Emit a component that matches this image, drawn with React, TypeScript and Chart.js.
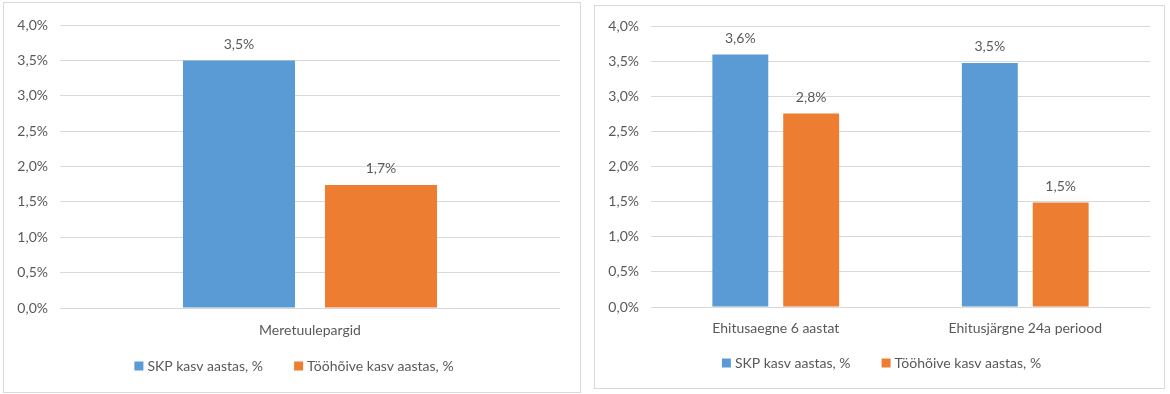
import React, { useEffect, useRef } from "react";
import { Chart, registerables } from "chart.js";

Chart.register(...registerables);

const seriesNames = ["SKP kasv aastas, %", "Tööhõive kasv aastas, %"];
const seriesColors = ["#5B9BD5", "#ED7D31"];

const leftCategories = ["Meretuulepargid"];
const leftGdp = [3.5];
const leftEmployment = [1.74];

const rightCategories = ["Ehitusaegne 6 aastat", "Ehitusjärgne 24a periood"];
const rightGdp = [3.6, 3.48];
const rightEmployment = [2.76, 1.49];

const yMin = 0;
const yMax = 4;
const yStep = 0.5;

const TEXT = "#595959";
const GRID = "#d9d9d9";
const FONT = "Lato, 'Open Sans', sans-serif";

const fmt = (v: number) => v.toFixed(1).replace(".", ",") + "%";

const valueLabels = {
  id: "valueLabels",
  afterDatasetsDraw(chart: any) {
    const ctx = chart.ctx;
    ctx.save();
    ctx.font = `14px ${FONT}`;
    ctx.fillStyle = TEXT;
    ctx.textAlign = "center";
    ctx.textBaseline = "middle";
    chart.data.datasets.forEach((ds: any, i: number) => {
      const meta = chart.getDatasetMeta(i);
      meta.data.forEach((el: any, j: number) => {
        ctx.fillText(fmt(ds.data[j]), el.x, el.y - 16);
      });
    });
    ctx.restore();
  },
};

// Legend drawn below the x axis, centered on the whole chart box (as in the source)
const bottomLegend = {
  id: "bottomLegend",
  afterDraw(chart: any, _args: any, opts: any) {
    const ctx = chart.ctx;
    const box = 9;
    const gap = 4;
    const spacing = 31;
    ctx.save();
    ctx.font = `14px ${FONT}`;
    ctx.textBaseline = "middle";
    ctx.textAlign = "left";
    const items = chart.data.datasets.map((ds: any) => ({
      text: ds.label,
      color: ds.backgroundColor,
      w: ctx.measureText(ds.label).width,
    }));
    const total =
      items.reduce((s: number, it: any) => s + box + gap + it.w, 0) + spacing * (items.length - 1);
    let x = chart.width / 2 + 2 - total / 2;
    const y = chart.chartArea.bottom + opts.offset;
    items.forEach((it: any) => {
      ctx.fillStyle = it.color;
      ctx.fillRect(x, y - box / 2, box, box);
      x += box + gap;
      ctx.fillStyle = TEXT;
      ctx.fillText(it.text, x, y);
      x += it.w + spacing;
    });
    ctx.restore();
  },
};

type Cfg = {
  categories: string[];
  gdp: number[];
  emp: number[];
  w: number;
  h: number;
  yWidth: number;
  rightPad: number;
  top: number;
  bottom: number;
  xPad: number;
  legendOffset: number;
};

function BarChart({ categories, gdp, emp, w, h, yWidth, rightPad, top, bottom, xPad, legendOffset }: Cfg) {
  const ref = useRef<HTMLCanvasElement | null>(null);
  useEffect(() => {
    if (!ref.current) return;
    const chart = new Chart(ref.current, {
      type: "bar",
      data: {
        labels: categories,
        datasets: [
          { label: seriesNames[0], data: gdp, backgroundColor: seriesColors[0] },
          { label: seriesNames[1], data: emp, backgroundColor: seriesColors[1] },
        ],
      },
      options: {
        animation: false,
        responsive: false,
        devicePixelRatio: 1,
        layout: { padding: { top, bottom, left: 0, right: 0 } },
        datasets: { bar: { categoryPercentage: 0.568, barPercentage: 0.789 } },
        plugins: {
          tooltip: { enabled: false },
          legend: { display: false },
          bottomLegend: { offset: legendOffset },
        },
        scales: {
          x: {
            grid: { display: false, drawTicks: false },
            border: { display: false },
            ticks: { color: TEXT, font: { family: FONT, size: 14 }, padding: xPad, maxRotation: 0 },
            afterFit: (s: any) => {
              s.height = 40;
            },
          },
          y: {
            min: yMin,
            max: yMax,
            grid: { color: GRID, drawTicks: false },
            border: { display: false },
            ticks: {
              stepSize: yStep,
              autoSkip: false,
              color: TEXT,
              font: { family: FONT, size: 14 },
              padding: 12,
              callback: (v: any) => fmt(Number(v)),
            },
            afterFit: (s: any) => {
              s.width = yWidth;
            },
          },
          pad: {
            type: "linear",
            position: "right",
            display: true,
            grid: { display: false, drawTicks: false },
            border: { display: false },
            ticks: { display: false },
            afterFit: (s: any) => {
              s.width = rightPad;
            },
          },
        },
      } as any,
      plugins: [valueLabels, bottomLegend],
    });
    return () => chart.destroy();
  }, []);
  return <canvas ref={ref} width={w} height={h} style={{ display: "block", width: w, height: h }} />;
}

function Box(props: { left: number; top: number; w: number; h: number; children: any }) {
  return (
    <div
      style={{
        position: "absolute",
        left: props.left,
        top: props.top,
        width: props.w,
        height: props.h,
        border: `1px solid ${GRID}`,
        background: "#fff",
      }}
    >
      {props.children}
    </div>
  );
}

export default function App() {
  useEffect(() => {
    document.body.style.margin = "0";
    document.body.style.background = "#fff";
  }, []);
  return (
    <div style={{ position: "absolute", left: 0, top: 0, width: 1170, height: 394, background: "#fff" }}>
      <Box left={3} top={2} w={576} h={389}>
        <BarChart
          categories={leftCategories}
          gdp={leftGdp}
          emp={leftEmployment}
          w={576}
          h={389}
          yWidth={56}
          rightPad={20}
          top={22}
          bottom={44}
          xPad={14}
          legendOffset={58}
        />
      </Box>
      <Box left={594} top={5} w={569} h={382}>
        <BarChart
          categories={rightCategories}
          gdp={rightGdp}
          emp={rightEmployment}
          w={569}
          h={382}
          yWidth={56}
          rightPad={14}
          top={19}
          bottom={41}
          xPad={13}
          legendOffset={56}
        />
      </Box>
    </div>
  );
}
